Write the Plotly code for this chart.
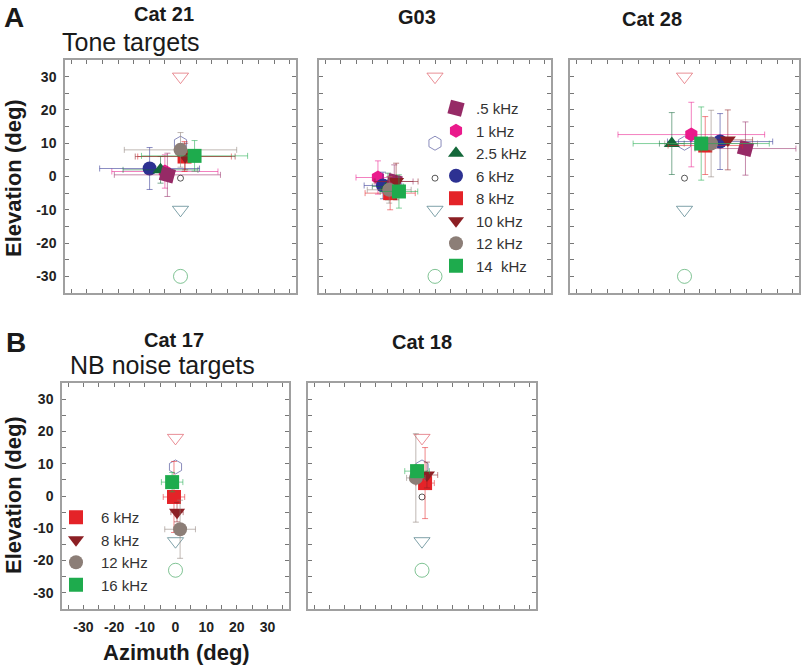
import plotly.graph_objects as go

W, H = 805, 666

# ---- tone targets (row A) ----
TONE_LABELS = [".5 kHz", "1 kHz", "2.5 kHz", "6 kHz", "8 kHz", "10 kHz", "12 kHz", "14  kHz"]
TONE_COLORS = ["#962a66", "#ea1a8c", "#14683a", "#2d3192", "#e42328", "#8c1f24", "#8c7e77", "#1eab4d"]
TONE_SYMBOLS = ["square", "hexagon", "triangle-up", "circle", "square", "triangle-down", "circle", "square"]

cat21_az = [-4.2, -5.0, -6.4, -9.9, 1.3, 1.5, 0.0, 4.5]
cat21_el = [0.5, 1.5, 2.0, 2.4, 6.0, 6.0, 8.0, 6.2]
cat21_az_err = [17, 17, 12, 16, 15, 16, 18, 17]
cat21_el_err = [6.5, 5, 4, 6.3, 4.5, 4, 5.2, 4.6]

g03_az = [-13.0, -18.2, -15.0, -16.6, -14.3, -12.4, -14.6, -11.5]
g03_el = [-1.5, -0.3, -3.0, -2.7, -5.0, -1.5, -4.0, -4.5]
g03_az_err = [6, 7, 5, 6, 8, 7, 7, 6]
g03_el_err = [5, 5, 4, 4, 5, 5.5, 4, 5]

cat28_az = [19.7, 2.2, -4.1, 11.5, 6.7, 14.0, 8.6, 5.4]
cat28_el = [8.4, 12.6, 9.9, 10.5, 9.3, 11.0, 9.9, 9.9]
cat28_az_err = [16.3, 23.7, 4, 17, 12, 8, 15, 22]
cat28_el_err = [8, 9.7, 9.3, 8.4, 8.7, 9, 10, 11]

# ---- narrow-band noise targets (row B) ----
NOISE_LABELS = ["6 kHz", "8 kHz", "12 kHz", "16 kHz"]
NOISE_COLORS = ["#e42328", "#8c1f24", "#8c7e77", "#1eab4d"]
NOISE_SYMBOLS = ["square", "triangle-down", "circle", "square"]

cat17_az = [-0.5, 0.5, 1.5, -1.1]
cat17_el = [-0.3, -5.0, -10.3, 4.3]
cat17_az_err = [3.5, 2, 5, 3.5]
cat17_el_err = [11, 3, 9, 3]

cat18_az = [1.0, 1.6, -2.0, -1.6]
cat18_el = [4.0, 6.5, 5.6, 7.7]
cat18_az_err = [3, 3.5, 3, 4]
cat18_el_err = [11, 4, 13.7, 2]

# ---- speaker target positions ----
TARGET_SYMBOLS = ["triangle-down-open", "hexagon-open", "circle-open", "triangle-down-open", "circle-open"]
TARGET_COLORS = ["#e0606a", "#5a5ca0", "#111111", "#4a7a84", "#4aaa66"]
TARGET_SIZES = [14, 14, 6, 14, 14]
tone_target_az = [0, 0, 0, 0, 0]
tone_target_el = [30, 10, -0.5, -10, -30]
noise_target_az = [0, 0, 0, 0, 0]
noise_target_el = [18, 9, -0.3, -14, -23]

TICK_VALS = [-35, -30, -25, -20, -15, -10, -5, 0, 5, 10, 15, 20, 25, 30, 35]
TICK_TEXT = ["", "-30", "", "-20", "", "-10", "", "0", "", "10", "", "20", "", "30", ""]

# panel frames in pixels: left, right, top, bottom
frames = [
    (65, 296, 60, 293),
    (319, 551, 60, 293),
    (570, 799, 60, 293),
    (62, 289, 383, 609),
    (308, 536, 383, 609),
]


def px(x):
    return x / W


def py(y):
    return 1 - y / H


def rgba(hex_color, a):
    h = hex_color.lstrip("#")
    return f"rgba({int(h[0:2], 16)},{int(h[2:4], 16)},{int(h[4:6], 16)},{a})"


fig = go.Figure()


def add_targets(n, az, el):
    fig.add_trace(go.Scatter(
        x=az, y=el, mode="markers", showlegend=False, hoverinfo="skip",
        xaxis=f"x{n}", yaxis=f"y{n}",
        marker=dict(symbol=TARGET_SYMBOLS, size=TARGET_SIZES, color=TARGET_COLORS,
                    line=dict(width=1, color=TARGET_COLORS)),
    ))


def add_points(n, labels, colors, symbols, az, el, az_err, el_err, order, legend_name=None):
    for i in order:
        angle = 15 if labels[i] == ".5 kHz" else 0
        fig.add_trace(go.Scatter(
            x=[az[i]], y=[el[i]], mode="markers", name=labels[i],
            xaxis=f"x{n}", yaxis=f"y{n}",
            showlegend=legend_name is not None,
            legend=legend_name or "legend",
            legendrank=i + 1,
            marker=dict(symbol=symbols[i], size=14, color=colors[i], angle=angle,
                        line=dict(width=0)),
            error_x=dict(type="data", array=[az_err[i]], color=rgba(colors[i], 0.55),
                         thickness=1, width=3),
            error_y=dict(type="data", array=[el_err[i]], color=rgba(colors[i], 0.55),
                         thickness=1, width=3),
        ))


tone_order = [1, 3, 2, 0, 4, 5, 6, 7]
noise_order = [0, 1, 2, 3]

add_targets(1, tone_target_az, tone_target_el)
add_points(1, TONE_LABELS, TONE_COLORS, TONE_SYMBOLS, cat21_az, cat21_el, cat21_az_err, cat21_el_err, tone_order)
add_targets(2, tone_target_az, tone_target_el)
add_points(2, TONE_LABELS, TONE_COLORS, TONE_SYMBOLS, g03_az, g03_el, g03_az_err, g03_el_err, tone_order, "legend")
add_targets(3, tone_target_az, tone_target_el)
add_points(3, TONE_LABELS, TONE_COLORS, TONE_SYMBOLS, cat28_az, cat28_el, cat28_az_err, cat28_el_err, tone_order)
add_targets(4, noise_target_az, noise_target_el)
add_points(4, NOISE_LABELS, NOISE_COLORS, NOISE_SYMBOLS, cat17_az, cat17_el, cat17_az_err, cat17_el_err, noise_order, "legend2")
add_targets(5, noise_target_az, noise_target_el)
add_points(5, NOISE_LABELS, NOISE_COLORS, NOISE_SYMBOLS, cat18_az, cat18_el, cat18_az_err, cat18_el_err, noise_order)

tick_font = dict(family="Arial, Liberation Sans", size=14, color="#222", weight="bold")
axes = {}
for k, (l, r, t, b) in enumerate(frames, start=1):
    common = dict(
        showline=True, linecolor="#a0a0a0", linewidth=1.5, mirror="ticks",
        ticks="inside", ticklen=4, tickwidth=1, tickcolor="#777",
        tickvals=TICK_VALS, ticktext=TICK_TEXT, showgrid=False, zeroline=False,
        tickfont=tick_font, ticklabelstandoff=4, fixedrange=True, automargin=False,
    )
    suffix = "" if k == 1 else str(k)
    axes[f"xaxis{suffix}"] = dict(
        common, domain=[px(l), px(r)], range=[-37, 37], anchor=f"y{k}",
        showticklabels=(k == 4),
    )
    axes[f"yaxis{suffix}"] = dict(
        common, domain=[py(b), py(t)], range=[-35, 35], anchor=f"x{k}",
        showticklabels=(k in (1, 4)),
    )

ann = []


def label(text, x, y, size, bold=True, angle=0, color="#1a1a1a"):
    ann.append(dict(
        text=f"<b>{text}</b>" if bold else text, x=px(x), y=py(y),
        xref="paper", yref="paper", showarrow=False, textangle=angle,
        xanchor="center", yanchor="middle",
        font=dict(family="Arial, Liberation Sans", size=size, color=color),
    ))


label("A", 14, 17, 28)
label("Cat 21", 164, 14, 20)
label("Tone targets", 131, 42, 25, bold=False)
label("G03", 417, 17, 20)
label("Cat 28", 652, 19, 20)
label("B", 16, 342, 28)
label("Cat 17", 174, 340, 20)
label("NB noise targets", 162, 365, 25, bold=False)
label("Cat 18", 422, 342, 20)
label("Elevation (deg)", 13, 178, 22, angle=-90)
label("Elevation (deg)", 13, 495, 22, angle=-90)
label("Azimuth (deg)", 176, 652, 22)

fig.update_layout(
    width=W, height=H, margin=dict(l=0, r=0, t=0, b=0, autoexpand=False),
    paper_bgcolor="white", plot_bgcolor="white",
    annotations=ann,
    legend=dict(x=px(436), y=py(92), xanchor="left", yanchor="top",
                font=dict(family="Arial, Liberation Sans", size=15, color="#333"),
                bgcolor="rgba(0,0,0,0)", itemsizing="trace", traceorder="normal"),
    legend2=dict(x=px(51), y=py(501), xanchor="left", yanchor="top",
                 font=dict(family="Arial, Liberation Sans", size=15, color="#333"),
                 bgcolor="rgba(0,0,0,0)", itemsizing="trace", traceorder="normal",
                 itemwidth=40),
    **axes,
)

# drop the browser's default body margin so the figure sits at the page corner
fig.write_html("out.html", config={"displayModeBar": False},
               post_script="document.body.style.margin = '0';")
